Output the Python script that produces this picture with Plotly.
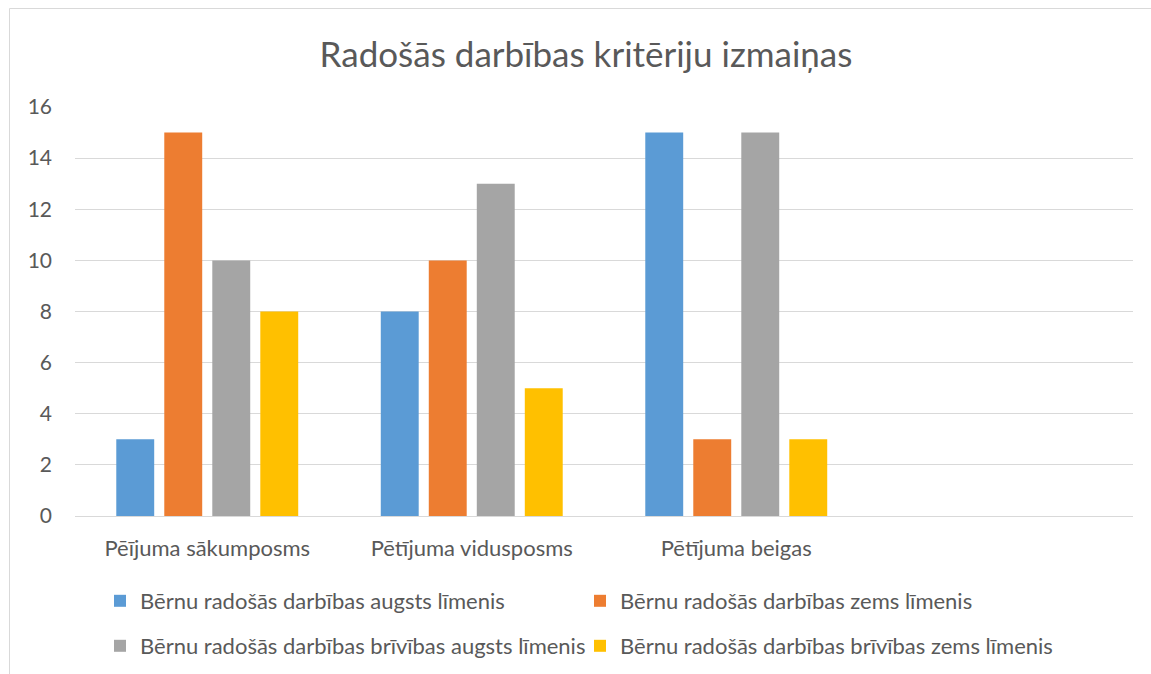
import plotly.graph_objects as go

categories = ["Pēījuma sākumposms", "Pētījuma vidusposms", "Pētījuma beigas"]
series_names = [
    "Bērnu radošās darbības augsts līmenis",
    "Bērnu radošās darbības zems līmenis",
    "Bērnu radošās darbības brīvības augsts līmenis",
    "Bērnu radošās darbības brīvības zems līmenis",
]
augsts = [3, 8, 15]
zems = [15, 10, 3]
brivibas_augsts = [10, 13, 15]
brivibas_zems = [8, 5, 3]
colors = ["#5B9BD5", "#ED7D31", "#A5A5A5", "#FFC000"]
legend_rows = ["legend", "legend", "legend2", "legend2"]
y_ticks = [0, 2, 4, 6, 8, 10, 12, 14, 16]

FONT = "Lato"
TXT = "#595959"

fig = go.Figure()
for name, vals, c, lg in zip(series_names, [augsts, zems, brivibas_augsts, brivibas_zems], colors, legend_rows):
    fig.add_trace(go.Bar(x=categories, y=vals, name=name, legend=lg,
                         marker=dict(color=c, line=dict(width=0))))

W, H = 1151, 674
L, R, T, B = 75, 18, 107, 158
pw, ph = W - L - R, H - T - B

def px_x(x):
    return (x - L) / pw

def px_y(y):
    return (H - B - y) / ph

legend_common = dict(orientation="h", xanchor="left", yanchor="middle",
                     entrywidth=435, entrywidthmode="pixels",
                     font=dict(size=22, color=TXT, family=FONT), itemsizing="constant",
                     bgcolor="rgba(0,0,0,0)")

fig.update_layout(
    width=W, height=H,
    margin=dict(l=L, r=R, t=T, b=B, autoexpand=False),
    paper_bgcolor="white", plot_bgcolor="white",
    barmode="group", bargap=0.274, bargroupgap=0.21,
    font=dict(family=FONT, color=TXT, size=21),
    title=dict(text="Radošās darbības kritēriju izmaiņas", x=586 / W, xanchor="center",
               y=1 - 55 / H, yanchor="middle", font=dict(size=35, color=TXT, family=FONT)),
    xaxis=dict(type="category", range=[-0.5, 3.5], showgrid=False, showline=True,
               linecolor="#d9d9d9", linewidth=1, ticks="", tickfont=dict(size=22, color=TXT),
               ticklabelstandoff=13, fixedrange=True),
    yaxis=dict(range=[0, 16], tickvals=y_ticks, showgrid=True, gridcolor="#d9d9d9", gridwidth=1,
               zeroline=False, showline=False, tickfont=dict(size=21, color=TXT),
               ticklabelstandoff=22, fixedrange=True),
    legend=dict(x=px_x(100), y=px_y(601), **legend_common),
    legend2=dict(x=px_x(100), y=px_y(646), **legend_common),
    shapes=[dict(type="rect", xref="paper", yref="paper", x0=px_x(9.5), x1=px_x(1200),
                 y0=px_y(720), y1=px_y(8.5), line=dict(color="#d9d9d9", width=1), layer="below")],
    showlegend=True,
)

fig.write_html("out.html", config={"displayModeBar": False},
               post_script="document.body.style.margin='0px';")
